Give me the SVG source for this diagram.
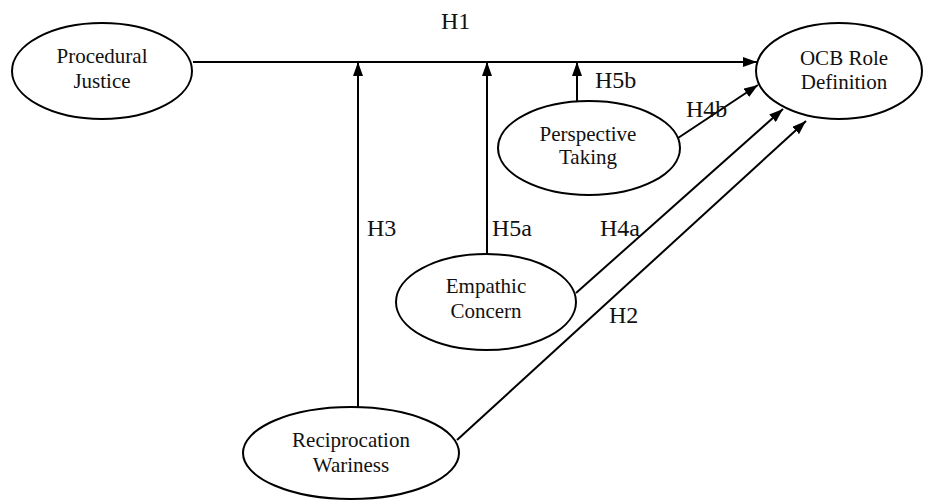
<svg xmlns="http://www.w3.org/2000/svg" width="925" height="502" viewBox="0 0 925 502">
<style>
text{font-family:'Liberation Serif','Times New Roman',serif;fill:#111}
.node ellipse{fill:#fff;stroke:#000;stroke-width:2}
.node text{font-size:21px;text-anchor:middle}
.lbl{font-size:24px}
#connectors line{stroke:#000;stroke-width:2;fill:none}
</style>
<defs>
<marker id="ah" viewBox="0 0 14 10" refX="14" refY="5" markerWidth="14" markerHeight="10" markerUnits="userSpaceOnUse" orient="auto">
<path d="M0,0 L14,5 L0,10 Z" fill="#000"/>
</marker>
</defs>
<rect width="925" height="502" fill="#fff"/>
<g id="connectors">
<line x1="193" y1="62" x2="757" y2="62" marker-end="url(#ah)"/>
<line x1="358" y1="407" x2="358" y2="62" marker-end="url(#ah)"/>
<line x1="487" y1="254" x2="487" y2="62" marker-end="url(#ah)"/>
<line x1="577" y1="101" x2="577" y2="62" marker-end="url(#ah)"/>
<line x1="678" y1="138" x2="758" y2="85" marker-end="url(#ah)"/>
<line x1="576" y1="293" x2="783" y2="109" marker-end="url(#ah)"/>
<line x1="457" y1="440" x2="806" y2="121" marker-end="url(#ah)"/>
</g>
<g id="labels">
<text class="lbl" x="441" y="29">H1</text>
<text class="lbl" x="595" y="88">H5b</text>
<text class="lbl" x="686" y="117">H4b</text>
<text class="lbl" x="367" y="236">H3</text>
<text class="lbl" x="492" y="236">H5a</text>
<text class="lbl" x="600" y="236">H4a</text>
<text class="lbl" x="609" y="323">H2</text>
</g>
<g id="procedural-justice" class="node">
<ellipse cx="102" cy="71" rx="90" ry="48"/>
<text x="102" y="63">Procedural</text>
<text x="102" y="88">Justice</text>
</g>
<g id="ocb-role-definition" class="node">
<ellipse cx="839" cy="71" rx="83" ry="48"/>
<text x="844" y="65">OCB Role</text>
<text x="844" y="89">Definition</text>
</g>
<g id="perspective-taking" class="node">
<ellipse cx="589" cy="148" rx="91" ry="47"/>
<text x="588" y="141">Perspective</text>
<text x="588" y="164">Taking</text>
</g>
<g id="empathic-concern" class="node">
<ellipse cx="486" cy="302" rx="90" ry="48"/>
<text x="486" y="293">Empathic</text>
<text x="486" y="318">Concern</text>
</g>
<g id="reciprocation-wariness" class="node">
<ellipse cx="351" cy="453" rx="108" ry="46"/>
<text x="351" y="447">Reciprocation</text>
<text x="351" y="472">Wariness</text>
</g>
</svg>
